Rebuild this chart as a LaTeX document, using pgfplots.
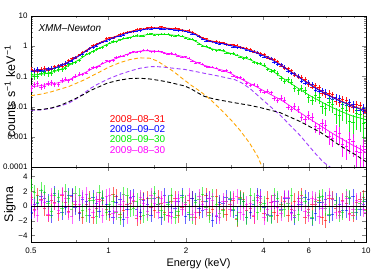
\documentclass[border=0pt]{standalone}
\usepackage{fontspec}
\setmainfont{Liberation Sans}
\usepackage{pgfplots}
\usepackage{pgfplotstable}
\pgfplotsset{compat=1.18}
\definecolor{cred}{RGB}{255,0,0}
\definecolor{cblue}{RGB}{0,0,255}
\definecolor{cgreen}{RGB}{0,235,0}
\definecolor{cmag}{RGB}{255,0,255}
\definecolor{corange}{RGB}{255,165,0}
\definecolor{cpurple}{RGB}{160,60,255}

\pgfplotstableread{
E mr dr mb db mg dg mm dm ea eb
0.50 0.155 0.171 0.15 0.143 0.11 0.116 0.045 0.041 0.18 0.25
0.53 0.16 0.147 0.155 0.174 0.115 0.104 0.048 0.058 0.17 0.24
0.565 0.165 0.19 0.16 0.149 0.122 0.137 0.052 0.049 0.16 0.22
0.60 0.18 0.171 0.175 0.193 0.137 0.132 0.056 0.062 0.15 0.20
0.64 0.215 0.226 0.21 0.204 0.16 0.173 0.062 0.055 0.14 0.18
0.68 0.27 0.243 0.26 0.281 0.20 0.188 0.072 0.083 0.12 0.16
0.72 0.36 0.403 0.34 0.32 0.26 0.27 0.085 0.081 0.10 0.14
0.77 0.51 0.525 0.48 0.509 0.36 0.342 0.108 0.121 0.09 0.12
0.82 0.74 0.696 0.70 0.714 0.52 0.556 0.14 0.130 0.08 0.11
0.87 1.0 1.08 0.95 0.903 0.68 0.66 0.185 0.20 0.07 0.10
0.92 1.28 1.24 1.2 1.28 0.85 0.884 0.23 0.221 0.07 0.10
0.98 1.65 1.82 1.55 1.49 1.12 1.05 0.30 0.33 0.07 0.09
1.04 1.97 1.87 1.85 1.94 1.35 1.43 0.36 0.338 0.06 0.09
1.11 2.4 2.54 2.25 2.18 1.6 1.65 0.44 0.466 0.06 0.08
1.18 2.88 2.94 2.7 2.81 1.9 1.82 0.54 0.524 0.06 0.08
1.25 3.25 3.02 3.05 3.23 2.08 2.18 0.63 0.662 0.06 0.08
1.33 3.62 3.87 3.4 3.26 2.22 2.15 0.69 0.656 0.06 0.08
1.42 3.95 4.11 3.7 3.81 2.42 2.57 0.71 0.76 0.06 0.08
1.51 4.1 3.94 3.85 4.04 2.5 2.38 0.69 0.669 0.06 0.08
1.60 4.1 4.47 3.85 3.73 2.5 2.58 0.64 0.666 0.06 0.08
1.70 3.95 3.87 3.7 3.85 2.42 2.54 0.57 0.542 0.06 0.08
1.81 3.75 3.94 3.5 3.36 2.3 2.21 0.52 0.551 0.06 0.08
1.93 3.48 3.31 3.25 3.45 2.1 2.18 0.46 0.446 0.06 0.08
2.05 3.15 3.4 2.95 2.89 1.85 1.74 0.39 0.41 0.06 0.08
2.18 2.57 2.49 2.4 2.47 1.45 1.54 0.30 0.282 0.06 0.08
2.32 1.87 1.94 1.75 1.68 1.05 1.02 0.24 0.257 0.06 0.08
2.46 1.55 1.44 1.45 1.52 0.86 0.903 0.21 0.202 0.06 0.08
2.62 1.39 1.47 1.3 1.26 0.76 0.707 0.18 0.189 0.06 0.09
2.78 1.28 1.31 1.2 1.25 0.69 0.738 0.16 0.149 0.06 0.09
2.96 1.12 1.06 1.05 1.11 0.59 0.566 0.13 0.14 0.06 0.09
3.15 1.02 1.10 0.95 0.903 0.50 0.52 0.097 0.092 0.07 0.10
3.34 0.89 0.863 0.83 0.863 0.43 0.396 0.075 0.083 0.07 0.10
3.56 0.75 0.788 0.70 0.672 0.35 0.378 0.057 0.051 0.07 0.11
3.78 0.62 0.583 0.58 0.621 0.28 0.266 0.044 0.049 0.08 0.12
4.02 0.50 0.55 0.47 0.447 0.22 0.242 0.033 0.030 0.08 0.13
4.27 0.395 0.379 0.37 0.392 0.165 0.149 0.025 0.029 0.09 0.15
4.54 0.29 0.31 0.27 0.254 0.115 0.129 0.019 0.0163 0.10 0.17
4.83 0.20 0.184 0.19 0.207 0.08 0.0704 0.014 0.0168 0.11 0.20
5.13 0.143 0.16 0.135 0.126 0.057 0.0656 0.0098 0.0083 0.12 0.23
5.46 0.10 0.095 0.095 0.105 0.040 0.034 0.0069 0.0084 0.14 0.26
5.80 0.072 0.083 0.068 0.061 0.029 0.0348 0.0049 0.0039 0.16 0.30
6.17 0.051 0.045 0.048 0.055 0.021 0.0168 0.0035 0.0046 0.18 0.35
6.56 0.037 0.0437 0.035 0.0315 0.016 0.020 0.0025 0.0019 0.20 0.40
6.97 0.0275 0.0248 0.026 0.0302 0.012 0.009 0.0018 0.0024 0.22 0.45
7.41 0.021 0.0252 0.020 0.0176 0.0093 0.0121 0.0013 0.00091 0.25 0.50
7.88 0.0163 0.0139 0.0155 0.0183 0.0073 0.0051 0.00095 0.00133 0.28 0.60
8.38 0.0131 0.016 0.0125 0.0108 0.0059 0.0077 0.0007 0.00049 0.30 0.65
8.91 0.0105 0.0092 0.010 0.012 0.0048 0.0031 0.00052 0.00073 0.32 0.70
9.47 0.0087 0.0109 0.0083 0.0073 0.0042 0.0057 0.0004 0.0003 0.35 0.75
10.0 0.0073 0.0066 0.007 0.0078 0.0037 0.0030 0.0003 0.00039 0.38 0.80
}\specdata

\pgfplotstableread{
E dr db dg dm ea eb
0.515 0.148 0.163 0.104 0.0535 0.18 0.25
0.546 0.175 0.148 0.13 0.045 0.17 0.23
0.582 0.165 0.18 0.123 0.0594 0.16 0.21
0.618 0.209 0.182 0.157 0.0531 0.15 0.19
0.659 0.224 0.248 0.168 0.0748 0.13 0.17
0.70 0.334 0.279 0.244 0.072 0.11 0.15
0.742 0.407 0.432 0.291 0.105 0.10 0.13
0.793 0.645 0.557 0.455 0.114 0.09 0.12
0.845 0.826 0.856 0.571 0.174 0.08 0.11
0.896 1.18 1.03 0.798 0.196 0.07 0.10
0.948 1.38 1.43 0.927 0.281 0.07 0.10
1.01 1.91 1.64 1.3 0.313 0.06 0.09
1.071 2.1 2.12 1.41 0.422 0.06 0.09
1.143 2.76 2.34 1.83 0.468 0.06 0.08
1.215 2.94 3.04 1.91 0.618 0.06 0.08
1.288 3.64 3.09 2.26 0.626 0.06 0.08
1.37 3.59 3.73 2.2 0.742 0.06 0.08
1.463 4.3 3.66 2.61 0.665 0.06 0.08
1.555 3.98 4.04 2.4 0.705 0.06 0.08
1.648 4.18 3.58 2.58 0.58 0.06 0.08
1.751 3.7 3.78 2.24 0.577 0.06 0.08
1.864 3.83 3.27 2.31 0.465 0.06 0.08
1.988 3.21 3.22 1.89 0.449 0.06 0.08
2.112 2.99 2.55 1.72 0.325 0.06 0.08
2.245 2.08 2.15 1.17 0.287 0.06 0.08
2.39 1.8 1.51 1.01 0.211 0.06 0.08
2.534 1.41 1.44 0.768 0.208 0.06 0.09
2.699 1.4 1.2 0.767 0.16 0.06 0.09
2.863 1.13 1.19 0.6 0.156 0.06 0.09
3.049 1.14 0.95 0.581 0.104 0.07 0.10
3.245 0.903 0.932 0.436 0.0938 0.07 0.10
3.44 0.869 0.724 0.419 0.0589 0.07 0.11
3.667 0.639 0.682 0.288 0.056 0.08 0.12
3.893 0.6 0.491 0.273 0.0335 0.08 0.13
4.141 0.413 0.45 0.171 0.033 0.09 0.14
4.398 0.368 0.291 0.155 0.0185 0.10 0.16
4.676 0.222 0.249 0.0845 0.0196 0.11 0.19
4.975 0.186 0.144 0.0776 0.0096 0.12 0.22
5.284 0.108 0.127 0.0405 0.0103 0.13 0.25
5.624 0.096 0.0704 0.0408 0.0045 0.15 0.28
5.974 0.0537 0.065 0.0198 0.0053 0.17 0.33
6.355 0.05 0.0353 0.0229 0.0022 0.19 0.38
6.757 0.0274 0.0353 0.01 0.0028 0.21 0.43
7.179 0.0283 0.0194 0.0138 0.00105 0.24 0.48
7.632 0.0155 0.0211 0.0057 0.00154 0.27 0.55
8.116 0.0175 0.0117 0.0089 0.00056 0.29 0.62
8.631 0.00995 0.0137 0.0032 0.00084 0.31 0.68
9.177 0.0117 0.0077 0.0058 0.00032 0.34 0.72
9.754 0.0069 0.0091 0.0029 0.00047 0.37 0.78
}\specB

\pgfplotstableread{
E v
0.5 0.023
0.55 0.026
0.6 0.031
0.7 0.046
0.8 0.075
0.9 0.125
1.0 0.2
1.1 0.28
1.21 0.36
1.32 0.41
1.45 0.40
1.55 0.32
1.66 0.22
1.8 0.14
1.92 0.09
2.1 0.05
2.27 0.032
2.42 0.021
2.55 0.014
2.75 0.0075
3.0 0.0035
3.25 0.0016
3.54 0.0006
3.8 0.00022
3.95 0.0001
4.1 0.00005
}\orangetab

\pgfplotstableread{
E v
0.5 0.0075
0.55 0.0078
0.6 0.0088
0.65 0.0105
0.7 0.013
0.75 0.018
0.8 0.027
0.85 0.04
0.9 0.053
0.99 0.08
1.1 0.115
1.21 0.15
1.32 0.185
1.45 0.21
1.55 0.21
1.66 0.2
1.8 0.185
1.98 0.17
2.27 0.135
2.5 0.115
2.71 0.1
3.1 0.078
3.3 0.06
3.54 0.04
3.88 0.02
4.2 0.011
4.64 0.0052
5.1 0.0023
5.55 0.0011
6.0 0.0005
6.36 0.00028
6.8 0.00015
7.25 0.0001
7.6 0.00006
}\purpletab

\pgfplotstableread{
E v
0.5 0.0078
0.55 0.008
0.6 0.009
0.65 0.011
0.7 0.0145
0.75 0.019
0.8 0.025
0.85 0.034
0.9 0.042
0.99 0.06
1.1 0.075
1.21 0.085
1.32 0.087
1.45 0.082
1.6 0.072
1.73 0.063
1.98 0.048
2.1 0.038
2.2 0.03
2.35 0.022
2.5 0.019
2.65 0.017
3.0 0.014
3.54 0.011
3.88 0.0093
4.64 0.0063
5.55 0.0032
6.66 0.0014
7.96 0.0005
9.0 0.00027
10 0.00015
}\blacktab

\pgfplotstableread{
E rr rg rb rm
0.50 1.2 2.6 -0.8 0.9
0.53 1.5 0.5 0.4 -1.2
0.565 -0.3 1.8 1.1 0.5
0.60 0.8 -0.7 -1.3 1.4
0.64 -1.0 1.2 0.7 -0.6
0.68 0.5 2.0 -0.2 1.0
0.72 1.3 -0.5 1.5 -1.4
0.77 -0.8 1.5 -1.0 0.3
0.82 0.2 -1.2 0.6 1.6
0.87 -1.5 0.8 1.2 -0.8
0.92 0.9 1.9 -0.7 0.6
0.98 -0.4 -0.9 0.3 1.3
1.04 1.6 0.6 -1.5 -1.0
1.11 -1.1 -1.6 0.9 0.2
1.18 0.3 1.4 -0.4 -1.5
1.25 0.7 -0.3 1.3 0.8
1.33 -1.4 0.9 -0.9 1.2
1.42 1.0 -1.1 0.2 -0.7
1.51 -0.6 1.7 1.0 0.4
1.60 0.4 -0.6 -1.6 1.1
1.70 -1.2 0.3 0.5 -1.3
1.81 1.1 -1.5 -0.3 0.6
1.93 -0.2 1.2 1.4 -0.4
2.05 0.8 -0.8 -1.1 1.5
2.18 -1.6 0.5 0.8 -0.9
2.32 0.6 1.6 -0.6 0.3
2.46 -0.9 -1.3 1.1 1.0
2.62 1.3 0.2 -1.4 -1.2
2.78 -0.5 -0.6 0.4 0.7
2.96 0.2 1.1 0.9 -0.5
3.15 -1.8 -1.7 -1.2 1.3
3.34 0.9 0.7 0.6 -1.1
3.56 -0.3 1.4 -0.8 0.4
3.78 1.2 -0.9 1.5 0.8
4.02 -1.0 0.4 -0.2 -1.6
4.27 0.5 -1.4 -1.3 0.5
4.54 -1.3 1.0 0.7 -0.2
4.83 0.7 -0.5 1.1 1.2
5.13 -0.4 1.5 -0.9 -1.0
5.46 1.0 -1.1 0.3 0.6
5.80 -1.5 0.6 1.2 -0.7
6.17 0.3 -1.6 -1.7 1.1
6.56 0.8 1.2 0.5 -1.4
6.97 -2.0 -0.3 0.9 0.3
7.41 1.1 0.9 -1.1 0.9
7.88 -0.7 -1.2 0.2 -0.8
8.38 0.4 1.3 -0.6 1.0
8.91 -1.2 -0.8 1.3 -0.5
9.47 0.9 0.4 -0.4 0.7
10.0 -0.5 -0.6 0.6 -0.9
}\resA

\pgfplotstableread{
E rb rm rr rg
0.515 0.2 -0.6 -0.4 1.9
0.546 1.3 0.8 0.9 2.2
0.582 0.6 -1.1 -1.2 0.4
0.618 1.7 0.4 0.5 1.5
0.659 -0.9 1.6 1.4 -0.3
0.70 1.4 -0.9 -0.7 1.1
0.742 -0.2 0.7 0.2 1.7
0.793 0.9 1.2 -1.5 -0.6
0.845 -1.3 -0.4 1.1 0.8
0.896 0.4 0.9 -0.3 -1.4
0.948 1.1 -1.3 0.8 1.2
1.01 -0.7 1.5 -1.1 0.3
1.071 0.5 -0.7 1.3 -0.9
1.143 -1.8 0.6 -0.6 1.6
1.215 1.2 1.1 0.4 -0.5
1.288 -0.5 -1.2 -1.7 0.7
1.37 0.8 0.4 0.9 -1.3
1.463 -1.2 1.4 -0.2 1.0
1.555 0.3 -0.8 1.2 0.2
1.648 1.5 0.5 -0.9 -1.1
1.751 -0.8 -1.4 0.6 1.4
1.864 0.6 1.0 -1.3 -0.7
1.988 -1.4 0.2 0.3 0.5
2.112 1.0 -1.1 1.0 -1.5
2.245 -0.3 1.3 -0.8 0.9
2.39 0.7 -0.5 1.5 -0.2
2.534 -1.9 0.8 -0.5 1.3
2.699 0.5 -1.5 0.2 -1.0
2.863 1.2 0.6 -1.1 0.6
3.049 -0.6 1.0 0.8 -0.4
3.245 0.9 -0.9 1.2 1.1
3.44 -1.5 0.3 -0.6 -1.6
3.667 0.2 -1.3 -1.4 0.8
3.893 1.3 1.1 0.5 0.2
4.141 -1.1 -0.4 1.1 -1.2
4.398 0.6 0.7 -0.9 1.5
4.676 -0.4 -1.0 0.3 -0.6
4.975 1.0 1.2 -1.2 0.4
5.284 -1.6 -0.6 0.7 -1.3
5.624 0.3 0.5 1.4 1.0
5.974 0.9 -1.2 -0.5 -0.8
6.355 -1.0 0.9 0.2 0.6
6.757 0.5 -0.3 -1.6 1.3
7.179 -1.3 1.4 1.0 -1.1
7.632 0.8 -0.8 -0.3 0.3
8.116 -0.6 0.6 0.8 -0.9
8.631 1.1 -1.1 -1.0 1.2
9.177 -0.9 0.8 0.5 -0.4
9.754 0.3 -0.5 1.2 0.7
}\resB

\begin{document}
\begin{tikzpicture}
\useasboundingbox (0,0) rectangle (374bp,271bp);
\begin{axis}[
  at={(31bp,104bp)}, anchor=south west,
  scale only axis, width=335bp, height=151bp,
  xmode=log, ymode=log, xmin=0.5, xmax=10, ymin=1e-4, ymax=10,
  axis line style={line width=0.6pt},
  major tick length=4bp, minor tick length=2bp,
  xtick={0.5,1,2,4,6,10}, minor xtick={0.75,1.5,3,5,7,8,9},
  xticklabels={},
  ytick={1e-4,1e-3,1e-2,1e-1,1,10},
  yticklabels={0.0001,0.001,0.01,0.1,1,10},
  tick label style={font=\fontsize{8}{9}\selectfont},
  ylabel={counts s\textsuperscript{−1} keV\textsuperscript{−1}},
  ylabel style={at={(rel axis cs:-0.063,0.5)}, anchor=center, font=\fontsize{12.5}{14}\selectfont},
]
\addplot[draw=none, mark=none, forget plot, error bars/.cd, y dir=both, y explicit relative, x dir=both, x fixed relative=0.015, error mark=none, error bar style={draw=cred, line width=0.5pt, opacity=0.9}] table[x=E, y=dr, y error=ea] {\specdata};
\addplot[draw=none, mark=none, forget plot, error bars/.cd, y dir=both, y explicit relative, x dir=both, x fixed relative=0.015, error mark=none, error bar style={draw=cred, line width=0.5pt, opacity=0.9}] table[x=E, y=dr, y error=ea] {\specB};
\addplot[draw=none, mark=none, forget plot, error bars/.cd, y dir=both, y explicit relative, x dir=both, x fixed relative=0.015, error mark=none, error bar style={draw=cblue, line width=0.5pt, opacity=0.9}] table[x=E, y=db, y error=ea] {\specdata};
\addplot[draw=none, mark=none, forget plot, error bars/.cd, y dir=both, y explicit relative, x dir=both, x fixed relative=0.015, error mark=none, error bar style={draw=cblue, line width=0.5pt, opacity=0.9}] table[x=E, y=db, y error=ea] {\specB};
\addplot[draw=none, mark=none, forget plot, error bars/.cd, y dir=both, y explicit relative, x dir=both, x fixed relative=0.015, error mark=none, error bar style={draw=cgreen, line width=0.5pt, opacity=0.9}] table[x=E, y=dg, y error=eb] {\specdata};
\addplot[draw=none, mark=none, forget plot, error bars/.cd, y dir=both, y explicit relative, x dir=both, x fixed relative=0.015, error mark=none, error bar style={draw=cgreen, line width=0.5pt, opacity=0.9}] table[x=E, y=dg, y error=eb] {\specB};
\addplot[draw=none, mark=none, forget plot, error bars/.cd, y dir=both, y explicit relative, x dir=both, x fixed relative=0.015, error mark=none, error bar style={draw=cmag, line width=0.5pt, opacity=0.9}] table[x=E, y=dm, y error=eb] {\specdata};
\addplot[draw=none, mark=none, forget plot, error bars/.cd, y dir=both, y explicit relative, x dir=both, x fixed relative=0.015, error mark=none, error bar style={draw=cmag, line width=0.5pt, opacity=0.9}] table[x=E, y=dm, y error=eb] {\specB};
\addplot[cred, line width=0.7pt, mark=none] table[x=E, y=mr] {\specdata};
\addplot[cblue, line width=0.7pt, mark=none] table[x=E, y=mb] {\specdata};
\addplot[cgreen, line width=0.7pt, mark=none] table[x=E, y=mg] {\specdata};
\addplot[cmag, line width=0.7pt, mark=none] table[x=E, y=mm] {\specdata};
\addplot[corange, line width=0.9pt, mark=none, dash pattern=on 4pt off 2.5pt] table[x=E, y=v] {\orangetab};
\addplot[cpurple, line width=0.9pt, mark=none, dash pattern=on 4pt off 2.5pt] table[x=E, y=v] {\purpletab};
\addplot[black, line width=0.9pt, mark=none, dash pattern=on 4pt off 2.5pt] table[x=E, y=v] {\blacktab};
\node[anchor=west, font=\fontsize{10}{12}\selectfont\itshape] at (rel axis cs:0.012,0.92) {XMM–Newton};
\node[anchor=west, text=cred, font=\fontsize{10}{12}\selectfont] at (rel axis cs:0.225,0.318) {2008–08–31};
\node[anchor=west, text=cblue, font=\fontsize{10}{12}\selectfont] at (rel axis cs:0.225,0.252) {2008–09–02};
\node[anchor=west, text=cgreen, font=\fontsize{10}{12}\selectfont] at (rel axis cs:0.225,0.185) {2008–09–30};
\node[anchor=west, text=cmag, font=\fontsize{10}{12}\selectfont] at (rel axis cs:0.225,0.113) {2009–08–30};
\end{axis}
\begin{axis}[
  at={(31bp,29bp)}, anchor=south west,
  scale only axis, width=335bp, height=75bp,
  xmode=log, xmin=0.5, xmax=10, ymin=-4.9, ymax=5.3,
  axis line style={line width=0.6pt},
  major tick length=4bp, minor tick length=2bp,
  xtick={0.5,1,2,4,6,10}, minor xtick={0.75,1.5,3,5,7,8,9},
  xticklabels={0.5,1,2,4,6,10},
  ytick={-4,-2,0,2,4}, yticklabels={−4,−2,0,2,4},
  minor ytick={-5,-3,-1,1,3,5},
  tick label style={font=\fontsize{8}{9}\selectfont},
  xticklabel shift=2bp,
  xlabel={Energy (keV)},
  xlabel style={at={(rel axis cs:0.5,0)}, anchor=center, yshift=-22bp, font=\fontsize{11}{13}\selectfont},
  ylabel={Sigma},
  ylabel style={at={(rel axis cs:-0.063,0.5)}, anchor=center, font=\fontsize{12.5}{14}\selectfont},
]
\addplot[draw=none, mark=none, forget plot, error bars/.cd, y dir=both, y fixed=1, x dir=both, x fixed relative=0.015, error mark=none, error bar style={draw=cred, line width=0.5pt, opacity=0.6}] table[x=E, y=rr] {\resA};
\addplot[draw=none, mark=none, forget plot, error bars/.cd, y dir=both, y fixed=1, x dir=both, x fixed relative=0.015, error mark=none, error bar style={draw=cred, line width=0.5pt, opacity=0.6}] table[x=E, y=rr] {\resB};
\addplot[draw=none, mark=none, forget plot, error bars/.cd, y dir=both, y fixed=1, x dir=both, x fixed relative=0.015, error mark=none, error bar style={draw=cblue, line width=0.5pt, opacity=0.6}] table[x=E, y=rb] {\resA};
\addplot[draw=none, mark=none, forget plot, error bars/.cd, y dir=both, y fixed=1, x dir=both, x fixed relative=0.015, error mark=none, error bar style={draw=cblue, line width=0.5pt, opacity=0.6}] table[x=E, y=rb] {\resB};
\addplot[draw=none, mark=none, forget plot, error bars/.cd, y dir=both, y fixed=1, x dir=both, x fixed relative=0.015, error mark=none, error bar style={draw=cgreen, line width=0.5pt, opacity=0.6}] table[x=E, y=rg] {\resA};
\addplot[draw=none, mark=none, forget plot, error bars/.cd, y dir=both, y fixed=1, x dir=both, x fixed relative=0.015, error mark=none, error bar style={draw=cgreen, line width=0.5pt, opacity=0.6}] table[x=E, y=rg] {\resB};
\addplot[draw=none, mark=none, forget plot, error bars/.cd, y dir=both, y fixed=1, x dir=both, x fixed relative=0.015, error mark=none, error bar style={draw=cmag, line width=0.5pt, opacity=0.6}] table[x=E, y=rm] {\resA};
\addplot[draw=none, mark=none, forget plot, error bars/.cd, y dir=both, y fixed=1, x dir=both, x fixed relative=0.015, error mark=none, error bar style={draw=cmag, line width=0.5pt, opacity=0.6}] table[x=E, y=rm] {\resB};
\addplot[black, line width=0.8pt, mark=none] coordinates {(0.5,0) (10,0)};
\end{axis}
\end{tikzpicture}
\end{document}
